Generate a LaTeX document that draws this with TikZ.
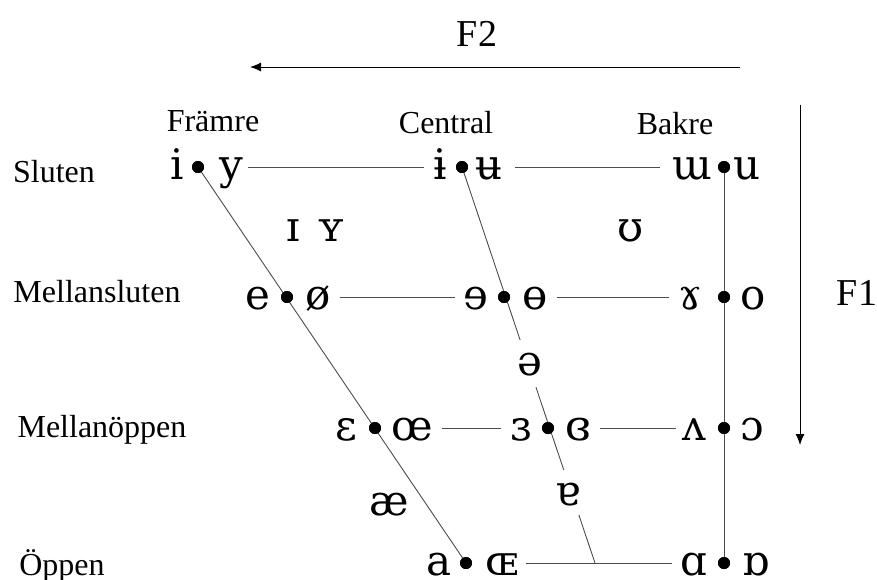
\documentclass[tikz,border=0pt]{standalone}
\usepackage{fontspec}
\setmainfont{Liberation Serif}
\newfontfamily\ipafont{DejaVu Serif}
\usetikzlibrary{arrows.meta,calc}
\begin{document}
\begin{tikzpicture}[x=1pt,y=-1pt,
  lab/.style={font=\fontsize{32}{36}\selectfont, anchor=base, inner sep=0pt},
  big/.style={font=\fontsize{38}{42}\selectfont, anchor=base, inner sep=0pt},
  vow/.style={font=\ipafont\fontsize{42}{46}\selectfont, anchor=base, inner sep=0pt, outer sep=0pt},
  vdot/.style={circle, fill=black, inner sep=0pt, minimum size=12pt},
  ln/.style={line width=0.9pt, draw=black!70},
  hl/.style={ln, shorten <=9pt, shorten >=9pt},
  axis/.style={line width=1pt, -{Latex[length=11pt,width=9pt]}}]
\useasboundingbox (0,0) rectangle (877,579);

% axes
\node[big] (F2) at (477,46) {F2};
\coordinate (f2s) at (740,67);
\coordinate (f2e) at (250,67);
\draw[axis] (f2s) -- (f2e);
\node[big] (F1) at (857,305) {F1};
\coordinate (f1s) at (800,105);
\coordinate (f1e) at (800,445);
\draw[axis] (f1s) -- (f1e);

% column labels
\node[lab] (fram) at (213,131) {Främre};
\node[lab] (cent) at (446,133) {Central};
\node[lab] (bak) at (675,134) {Bakre};

% row labels
\node[lab] (slu) at (54,182) {Sluten};
\node[lab] (msl) at (97,302) {Mellansluten};
\node[lab] (mop) at (102,437) {Mellanöppen};
\node[lab] (opp) at (62,575) {Öppen};

% row 1
\node[vow] (v1a) at (177,179) {i};
\node[vdot] (d1a) at (198,167) {};
\node[vow] (v1b) at (231,179) {y};
\node[vow] (v1c) at (440,179) {ɨ};
\node[vdot] (d1b) at (462,167) {};
\node[vow] (v1d) at (489,179) {ʉ};
\node[vow] (v1e) at (692,179) {ɯ};
\node[vdot] (d1c) at (724,167) {};
\node[vow] (v1f) at (747,179) {u};

% near-close
\node[vow] (n1) at (293,241) {ɪ};
\node[vow] (n2) at (331,241) {ʏ};
\node[vow] (n3) at (631,241) {ʊ};

% row 2
\node[vow] (v2a) at (258,309) {e};
\node[vdot] (d2a) at (287,297) {};
\node[vow] (v2b) at (318,309) {ø};
\node[vow] (v2c) at (476,309) {ɘ};
\node[vdot] (d2b) at (504,297) {};
\node[vow] (v2d) at (535,309) {ɵ};
\node[vow] (v2e) at (690,309) {ɤ};
\node[vdot] (d2c) at (724,297) {};
\node[vow] (v2f) at (753,309) {o};

% schwa
\node[vow] (sch) at (530,375) {ə};

% row 3
\node[vow] (v3a) at (346,440) {ɛ};
\node[vdot] (d3a) at (375,428) {};
\node[vow] (v3b) at (412,440) {œ};
\node[vow] (v3c) at (521,440) {ɜ};
\node[vdot] (d3b) at (548,428) {};
\node[vow] (v3d) at (578,440) {ɞ};
\node[vow] (v3e) at (694,440) {ʌ};
\node[vdot] (d3c) at (724,428) {};
\node[vow] (v3f) at (752,440) {ɔ};

% near-open
\node[vow] (ae) at (389,515) {æ};
\node[vow] (tura) at (568,505) {ɐ};

% row 4
\node[vow] (v4a) at (439,575) {a};
\node[vdot] (d4a) at (466,563) {};
\node[vow] (v4b) at (502,575) {ɶ};
\node[vow] (v4c) at (694,575) {ɑ};
\node[vdot] (d4c) at (724,563) {};
\node[vow] (v4d) at (756,575) {ɒ};
\coordinate (cb) at (595,563);

% horizontal lines
\draw[hl, shorten <=5pt] (v1b.east |- d1a) -- (v1c.west |- d1b);
\draw[hl, shorten <=12pt, shorten >=12pt] (v1d.east |- d1b) -- (v1e.west |- d1c);
\draw[hl] (v2b.east |- d2a) -- (v2c.west |- d2b);
\draw[hl] (v2d.east |- d2b) -- (v2e.west |- d2c);
\draw[hl] (v3b.east |- d3a) -- (v3c.west |- d3b);
\draw[hl, shorten >=6pt] (v3d.east |- d3b) -- (v3e.west |- d3c);
\draw[hl, shorten <=7pt] (v4b.east |- d4a) -- (v4c.west |- d4c);

% front and back lines
\draw[ln] (d1a.center) -- (d4a.center);
\draw[ln] (d1c.center) -- (d4c.center);

% central line with gaps
\draw[ln] (d1b.center) -- ($(d1b.center)!0.437!(cb)$);
\draw[ln] ($(d1b.center)!0.556!(cb)$) -- ($(d1b.center)!0.765!(cb)$);
\draw[ln] ($(d1b.center)!0.879!(cb)$) -- (cb);

% redraw dots on top
\foreach \d in {d1a,d1b,d1c,d2a,d2b,d2c,d3a,d3b,d3c,d4a,d4c}
  \fill (\d) circle (6pt);
\end{tikzpicture}
\end{document}
